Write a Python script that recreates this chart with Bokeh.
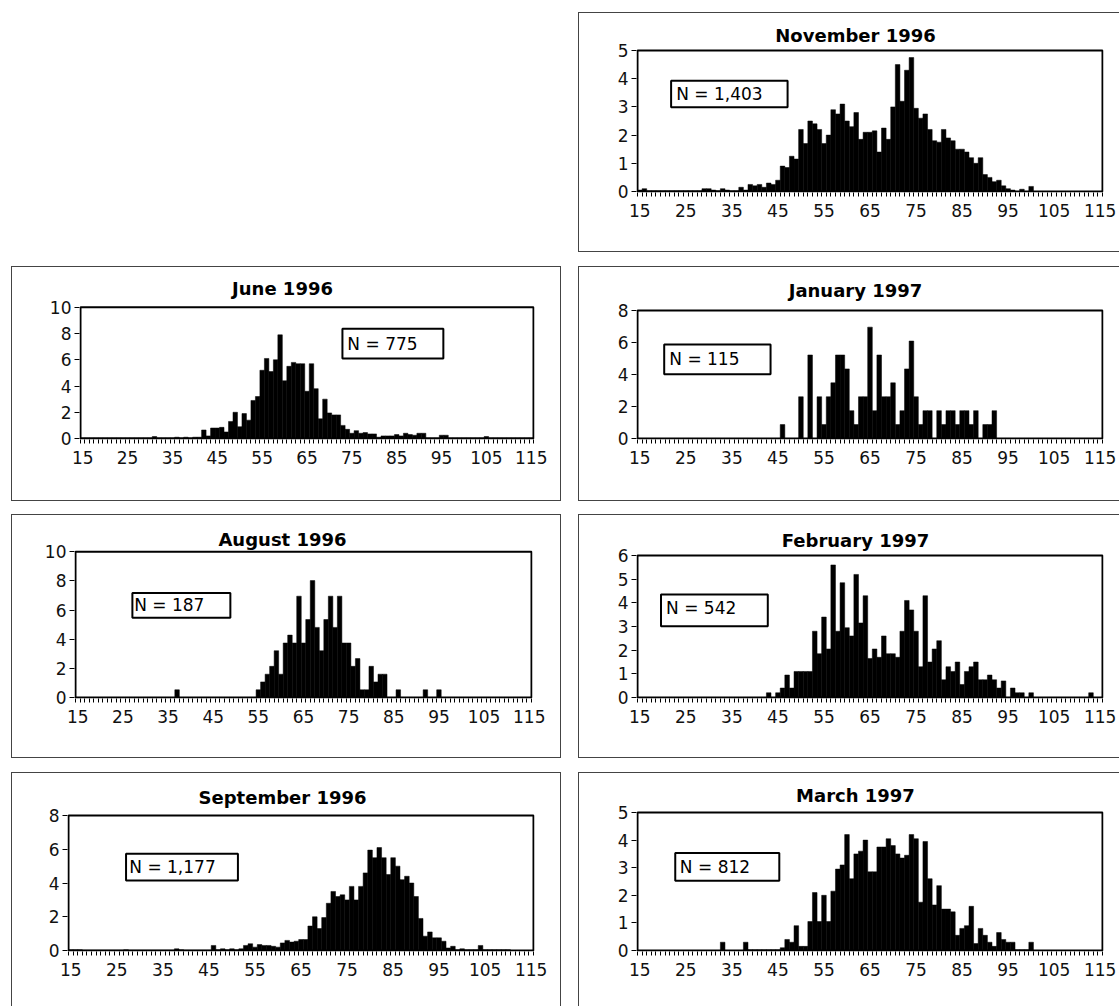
from bokeh.plotting import figure
from bokeh.layouts import column, row
from bokeh.models import Range1d, FixedTicker, Spacer, BoxAnnotation, Label, ColumnDataSource
from bokeh.embed import file_html
from bokeh.resources import INLINE

# ---------------- data ----------------
bins = list(range(15, 116))          # age bins (1-unit wide)
x_tick_labels = [15, 25, 35, 45, 55, 65, 75, 85, 95, 105, 115]

nov_1996 = [
    0.05, 0.10, 0.03, 0.03, 0.03, 0.03, 0.03, 0.03, 0.03, 0.03,
    0.03, 0.03, 0.03, 0.03, 0.10, 0.10, 0.05, 0.03, 0.10, 0.05,
    0.03, 0.03, 0.15, 0.05, 0.25, 0.20, 0.25, 0.15, 0.30, 0.25,
    0.40, 0.90, 0.85, 1.25, 1.15, 2.20, 1.70, 2.50, 2.40, 2.20,
    1.70, 2.00, 2.90, 2.75, 3.10, 2.50, 2.30, 2.80, 1.85, 2.10,
    2.10, 2.15, 1.40, 2.25, 1.85, 3.00, 4.50, 3.20, 4.30, 4.75,
    2.95, 2.60, 2.75, 2.20, 1.80, 1.75, 2.20, 1.90, 1.80, 1.50,
    1.50, 1.40, 1.20, 1.00, 1.20, 0.60, 0.50, 0.35, 0.40, 0.20,
    0.10, 0.05, 0.00, 0.08, 0.00, 0.18, 0.00, 0.00, 0.00, 0.00,
    0.00, 0.00, 0.00, 0.00, 0.00, 0.00, 0.00, 0.00, 0.00, 0.00,
    0.00]

jun_1996 = [
    0.05, 0.05, 0.05, 0.05, 0.05, 0.05, 0.05, 0.05, 0.05, 0.05,
    0.05, 0.05, 0.05, 0.05, 0.05, 0.05, 0.15, 0.05, 0.05, 0.05,
    0.05, 0.10, 0.05, 0.10, 0.05, 0.10, 0.10, 0.65, 0.20, 0.80,
    0.80, 0.85, 0.50, 1.30, 2.00, 0.90, 1.90, 1.40, 2.90, 3.20,
    5.20, 6.10, 5.10, 6.00, 7.90, 4.40, 5.50, 5.80, 5.70, 5.70,
    3.60, 5.70, 3.80, 1.50, 3.00, 1.95, 1.80, 1.80, 1.00, 0.70,
    0.40, 0.60, 0.40, 0.45, 0.35, 0.35, 0.10, 0.20, 0.20, 0.20,
    0.30, 0.20, 0.40, 0.30, 0.25, 0.40, 0.40, 0.05, 0.05, 0.05,
    0.25, 0.25, 0.05, 0.05, 0.05, 0.05, 0.05, 0.05, 0.05, 0.05,
    0.15, 0.05, 0.05, 0.05, 0.05, 0.05, 0.05, 0.05, 0.05, 0.05,
    0.05]

jan_1997 = [
    0, 0, 0, 0, 0, 0, 0, 0, 0, 0,
    0, 0, 0, 0, 0, 0, 0, 0, 0, 0,
    0, 0, 0, 0, 0, 0, 0, 0, 0, 0,
    0, 0.87, 0, 0, 0, 2.61, 0, 5.22, 0, 2.61,
    0.87, 2.61, 3.48, 5.22, 5.22, 4.35, 1.74, 0.87, 2.61, 2.61,
    6.96, 1.74, 5.22, 2.61, 2.61, 3.48, 0.87, 1.74, 4.35, 6.09,
    2.61, 0.87, 1.74, 1.74, 0, 1.74, 0.87, 1.74, 1.74, 0.87,
    1.74, 1.74, 0.87, 1.74, 0, 0.87, 0.87, 1.74, 0, 0,
    0, 0, 0, 0, 0, 0, 0, 0, 0, 0,
    0, 0, 0, 0, 0, 0, 0, 0, 0, 0,
    0]

aug_1996 = [
    0, 0, 0, 0, 0, 0, 0, 0, 0, 0,
    0, 0, 0, 0, 0, 0, 0, 0, 0, 0,
    0, 0, 0.53, 0, 0, 0, 0, 0, 0, 0,
    0, 0, 0, 0, 0, 0, 0, 0, 0, 0,
    0.53, 1.07, 1.60, 2.14, 3.21, 1.60, 3.74, 4.28, 3.74, 6.95,
    3.74, 5.35, 8.02, 4.81, 3.21, 5.35, 6.95, 4.81, 6.95, 3.74,
    3.74, 2.14, 2.67, 0.53, 0.53, 2.14, 1.07, 1.60, 1.60, 0,
    0, 0.53, 0, 0, 0, 0, 0, 0.53, 0, 0,
    0.53, 0, 0, 0, 0, 0, 0, 0, 0, 0,
    0, 0, 0, 0, 0, 0, 0, 0, 0, 0,
    0]

feb_1997 = [
    0, 0, 0, 0, 0, 0, 0, 0, 0, 0,
    0, 0, 0, 0, 0, 0, 0, 0, 0, 0,
    0, 0, 0, 0, 0, 0, 0, 0, 0.20, 0,
    0.20, 0.40, 0.95, 0.40, 1.10, 1.10, 1.10, 1.10, 2.80, 1.85,
    3.40, 2.05, 5.60, 2.80, 4.85, 2.95, 2.60, 5.20, 3.15, 4.30,
    1.65, 2.05, 1.70, 2.60, 1.85, 1.85, 1.70, 2.80, 4.10, 3.70,
    2.80, 1.30, 4.30, 1.50, 2.05, 2.40, 0.75, 1.30, 1.10, 1.50,
    0.55, 1.10, 1.30, 1.50, 0.75, 0.75, 0.95, 0.75, 0.40, 0.70,
    0, 0.40, 0.20, 0.20, 0, 0.20, 0, 0, 0, 0,
    0, 0, 0, 0, 0, 0, 0, 0, 0.20, 0,
    0]

sep_1996 = [
    0.05, 0.05, 0.05, 0.02, 0.02, 0.02, 0.02, 0.02, 0.02, 0.02,
    0.02, 0.02, 0.05, 0.02, 0.02, 0.02, 0.02, 0.02, 0.02, 0.02,
    0.02, 0.02, 0.02, 0.10, 0.05, 0.02, 0.02, 0.02, 0.02, 0.02,
    0.02, 0.30, 0.05, 0.10, 0.05, 0.10, 0.05, 0.10, 0.30, 0.40,
    0.20, 0.35, 0.30, 0.30, 0.25, 0.20, 0.45, 0.60, 0.50, 0.55,
    0.65, 0.65, 1.45, 2.00, 1.30, 1.95, 2.80, 3.50, 3.20, 3.30,
    3.00, 3.80, 3.00, 3.80, 4.60, 5.95, 5.50, 6.10, 5.50, 4.50,
    5.50, 5.00, 4.20, 4.40, 4.00, 3.20, 1.90, 0.85, 1.10, 0.75,
    0.75, 0.55, 0.15, 0.25, 0.05, 0.10, 0.05, 0.05, 0.05, 0.30,
    0.05, 0.05, 0.05, 0.05, 0.05, 0.05, 0, 0, 0, 0,
    0]

mar_1997 = [
    0, 0, 0, 0, 0, 0, 0, 0, 0, 0,
    0, 0, 0, 0, 0, 0, 0, 0, 0.30, 0,
    0, 0, 0, 0.30, 0.03, 0.03, 0.03, 0.03, 0.03, 0.03,
    0.03, 0.10, 0.40, 0.30, 0.90, 0.15, 0.15, 1.05, 2.10, 1.05,
    2.00, 1.05, 2.15, 2.95, 3.10, 4.20, 2.60, 3.50, 3.60, 4.00,
    2.85, 2.85, 3.75, 3.75, 4.05, 3.80, 3.50, 3.35, 3.45, 4.20,
    4.05, 1.75, 3.95, 2.60, 1.65, 2.35, 1.50, 1.50, 1.40, 0.55,
    0.80, 0.90, 1.60, 0.25, 0.80, 0.55, 0.30, 0.15, 0.65, 0.40,
    0.30, 0.30, 0.03, 0.03, 0.03, 0.30, 0, 0, 0, 0,
    0, 0, 0, 0, 0, 0, 0, 0, 0, 0,
    0]

titles = ["November 1996", "June 1996", "January 1997", "August 1996",
          "February 1997", "September 1996", "March 1997"]
n_labels = ["N = 1,403", "N = 775", "N = 115", "N = 187", "N = 542", "N = 1,177", "N = 812"]

FONT = "DejaVu Sans"
BORDER = "#444444"
XMIN, XMAX = 14.5, 115.5


def panel(title, pct, ymax, ystep, box, frame, title_c, nbox, ntext, nlabel, sides):
    bx0, by0, bx1, by1 = box
    fl, ft, fr, fb = frame
    pxu = (fr - fl) / (XMAX - XMIN)      # px per x unit
    pyu = (fb - ft) / ymax               # px per y unit
    top_px = by0 + 2                     # drawing area reaches almost to the box top
    p = figure(width=bx1 - bx0, height=by1 - by0,
               x_range=Range1d(XMIN - 1 / pxu, XMAX + 1 / pxu),
               y_range=Range1d(-1 / pyu, ymax + (ft - top_px) / pyu),
               output_backend="svg", toolbar_location=None,
               min_border_left=fl - 1 - bx0, min_border_right=bx1 - fr - 1,
               min_border_top=top_px - by0, min_border_bottom=by1 - fb - 1)
    p.border_fill_color = None
    p.background_fill_color = None
    p.outline_line_color = None
    p.xgrid.visible = False
    p.ygrid.visible = False

    src = ColumnDataSource(dict(left=[b - 0.5 for b in bins],
                                right=[b + 0.5 for b in bins],
                                top=pct))
    p.quad(left="left", right="right", top="top", bottom=0, source=src,
           fill_color="black", line_color="black", line_width=0.5)

    # plot-area frame
    p.add_layout(BoxAnnotation(left=XMIN, right=XMAX, bottom=0, top=ymax,
                               fill_color=None, fill_alpha=0,
                               line_color="black", line_alpha=1.0, line_width=2))

    xa = p.xaxis[0]
    xa.ticker = FixedTicker(ticks=x_tick_labels,
                            minor_ticks=[b - 0.5 for b in bins] + [XMAX])
    xa.axis_line_color = None
    xa.major_tick_line_color = None
    xa.major_tick_out = 4
    xa.major_tick_in = 0
    xa.minor_tick_out = 4
    xa.minor_tick_in = 0
    xa.minor_tick_line_color = "black"
    xa.minor_tick_line_width = 1
    xa.major_label_standoff = 7
    xa.major_label_text_font = FONT
    xa.major_label_text_font_size = "17px"
    xa.major_label_text_color = "#111111"

    ya = p.yaxis[0]
    ya.ticker = FixedTicker(ticks=list(range(0, ymax + 1, ystep)))
    ya.axis_line_color = None
    ya.major_tick_out = 5
    ya.major_tick_in = 0
    ya.minor_tick_line_color = None
    ya.major_label_standoff = 3
    ya.major_label_text_font = FONT
    ya.major_label_text_font_size = "17px"
    ya.major_label_text_color = "#111111"

    # title in data space above the plot-area frame
    tx = XMIN + (title_c[0] - fl) / pxu
    ty = ymax + (ft - title_c[1]) / pyu
    p.add_layout(Label(x=tx, y=ty, text=title, text_align="center",
                       text_baseline="middle", text_font=FONT,
                       text_font_style="bold", text_font_size="18px",
                       text_color="black"))

    # N = ... box
    p.add_layout(BoxAnnotation(left=nbox[0], right=nbox[1], bottom=nbox[2], top=nbox[3],
                               fill_color="white", fill_alpha=1.0,
                               line_color="black", line_alpha=1.0, line_width=2))
    p.add_layout(Label(x=ntext[0], y=ntext[1], text=nlabel, text_align="left",
                       text_baseline="middle", text_font=FONT,
                       text_font_size="17px", text_color="black"))

    shadows = []
    if "l" in sides:
        shadows.append(f"inset 1px 0 0 0 {BORDER}")
    if "r" in sides:
        shadows.append(f"inset -1px 0 0 0 {BORDER}")
    if "t" in sides:
        shadows.append(f"inset 0 1px 0 0 {BORDER}")
    if "b" in sides:
        shadows.append(f"inset 0 -1px 0 0 {BORDER}")
    p.styles = {"box-shadow": ", ".join(shadows)}
    return p


# absolute page coordinates (box: x0, y0, x1, y1 ; frame: left, top, right, bottom)
nov = panel(titles[0], nov_1996, 5, 1, (578, 12, 1119, 252), (637, 50, 1102, 191),
            (855, 35), (21.8, 47.1, 2.99, 3.93), (22.9, 3.46), n_labels[0], "ltb")
jun = panel(titles[1], jun_1996, 10, 2, (11, 266, 561, 501), (80, 307, 533, 439),
            (282, 288), (72.9, 95.4, 6.1, 8.36), (74.0, 7.23), n_labels[1], "ltrb")
jan = panel(titles[2], jan_1997, 8, 2, (578, 266, 1119, 501), (637, 310, 1102, 438),
            (855, 290), (20.3, 43.4, 4.01, 5.88), (21.4, 4.94), n_labels[2], "ltb")
aug = panel(titles[3], aug_1996, 10, 2, (11, 514, 561, 758), (75, 552, 531, 701),
            (282, 540), (27.1, 48.8, 5.47, 7.17), (27.5, 6.32), n_labels[3], "ltrb")
feb = panel(titles[4], feb_1997, 6, 1, (578, 514, 1119, 758), (637, 555, 1102, 697),
            (855, 540), (19.6, 42.8, 3.01, 4.35), (20.7, 3.78), n_labels[4], "ltb")
sep = panel(titles[5], sep_1996, 8, 2, (11, 772, 561, 1006), (68, 815, 533, 950),
            (282, 797), (27.0, 51.3, 4.15, 5.73), (27.7, 4.94), n_labels[5], "ltr")
mar = panel(titles[6], mar_1997, 5, 1, (578, 772, 1119, 1006), (637, 812, 1102, 950),
            (855, 795), (22.7, 45.3, 2.53, 3.53), (23.7, 3.04), n_labels[6], "lt")

layout = column(
    Spacer(width=10, height=12),
    row(Spacer(width=578, height=240), nov),
    Spacer(width=10, height=14),
    row(Spacer(width=11, height=235), jun, Spacer(width=17, height=235), jan),
    Spacer(width=10, height=13),
    row(Spacer(width=11, height=244), aug, Spacer(width=17, height=244), feb),
    Spacer(width=10, height=14),
    row(Spacer(width=11, height=234), sep, Spacer(width=17, height=234), mar),
)

open("out.html", "w").write(file_html(layout, INLINE))
